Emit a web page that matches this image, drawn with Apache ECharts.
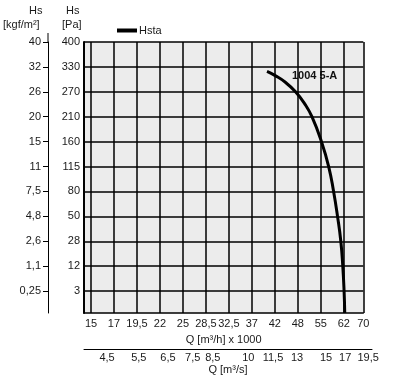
<!DOCTYPE html>
<html><head><meta charset="utf-8">
<script src="https://cdn.jsdelivr.net/npm/echarts@6/dist/echarts.min.js"></script>
<style>html,body{margin:0;padding:0;background:#fff}#c{width:398px;height:390px}</style>
</head><body><div id="c"></div>
<script>
// Tick values / labels
const qTickVals = [15,17,19.5,22,25,28.5,32.5,37,42,48,55,62,70];
const qLabels = ['15','17','19,5','22','25','28,5','32,5','37','42','48','55','62','70'];
const paTickVals = [3,12,28,50,80,115,160,210,270,330,400];
const paLabels = ['3','12','28','50','80','115','160','210','270','330','400'];
const kgfLabels = ['0,25','1,1','2,6','4,8','7,5','11','15','20','26','32','40'];
const qsLabels = ['4,5','5,5','6,5','7,5','8,5','10','11,5','13','15','17','19,5'];
// m3/s label positions expressed on the m3/h x1000 scale
const qsAtQ = [16.4,19.7,23.05,26.5,29.7,36.3,41.6,47.8,56.6,62.6,72.0];
// Curve Hsta: Q [m3/h x1000], Hs [Pa]
const hstaQ  = [40.3,42.1,44.75,47.4,50.1,52.3,55.2,57.4,58.9,60.1,61.1,61.7,62.13,62.4];
const hstaPa = [319, 309, 293,  270, 241, 210, 160, 115, 80,  50,  28,  12,  3,    0];

// layout constants (grid drawn in "tick index" units)
const X_MIN = -0.305, X_END = 11.85, Y_MIN = -0.88, Y_MAX = 10;
const G_LEFT = 84, G_RIGHT = 34.7, G2_RIGHT = 26, W = 398;
const X2_MAX = X_MIN + (X_END - X_MIN) * (W - G_LEFT - G2_RIGHT) / (W - G_LEFT - G_RIGHT);
const qTickIdx = qTickVals.map((_, i) => i === qTickVals.length - 1 ? X_END : i);
const paTickIdx = paTickVals.map((_, i) => i);

function piece(v, vals, idx){
  const n = vals.length;
  let i = 0;
  if (v <= vals[0]) i = 0;
  else if (v >= vals[n-1]) i = n-2;
  else { while (!(v >= vals[i] && v <= vals[i+1])) i++; }
  return idx[i] + (v - vals[i]) / (vals[i+1] - vals[i]) * (idx[i+1] - idx[i]);
}
function qPos(v){ return piece(v, qTickVals, qTickIdx); }
function paPos(v){ return v < paTickVals[0] ? Y_MIN * (paTickVals[0]-v)/paTickVals[0] : piece(v, paTickVals, paTickIdx); }
function nearest(arr, v){ let b = 0; arr.forEach((p, i) => { if (Math.abs(p - v) < Math.abs(arr[b] - v)) b = i; }); return b; }

const qsPos = qsAtQ.map(qPos);
const curve = hstaQ.map((q, i) => [qPos(q), paPos(hstaPa[i])]);

const F = 'Liberation Sans, Arial, sans-serif';
const TXT = {fontFamily: F, fontSize: 11, color: '#1a1a1a'};
const chart = echarts.init(document.getElementById('c'), null, {renderer: 'canvas'});
chart.setOption({
  animation: false,
  grid: [
    {left: G_LEFT, right: G_RIGHT, top: 42, bottom: 77, show: true, backgroundColor: '#ececec', borderWidth: 0},
    {left: G_LEFT, right: G2_RIGHT, top: 330, bottom: 41, show: false}
  ],
  legend: {left: 112, top: 20, icon: 'rect', itemWidth: 20, itemHeight: 4, itemGap: 2,
    textStyle: Object.assign({}, TXT, {padding: [0,0,0,-3]}), data: ['Hsta']},
  xAxis: [
    {type: 'value', gridIndex: 0, min: X_MIN, max: X_END, position: 'bottom',
      axisLine: {show: true, onZero: false, lineStyle: {color: '#000', width: 1.5}},
      axisTick: {show: false, customValues: qTickIdx},
      axisLabel: Object.assign({customValues: qTickIdx, margin: 5, formatter: v => qLabels[nearest(qTickIdx, v)]}, TXT),
      splitLine: {show: true, lineStyle: {color: '#000', width: 1.5}},
      name: 'Q [m³/h] x 1000', nameLocation: 'middle', nameGap: 21, nameTextStyle: TXT},
    {type: 'value', gridIndex: 1, min: X_MIN, max: X2_MAX, position: 'bottom',
      axisLine: {show: true, onZero: false, lineStyle: {color: '#000', width: 1}},
      axisTick: {show: false, customValues: qsPos},
      axisLabel: Object.assign({customValues: qsPos, margin: 3, formatter: v => qsLabels[nearest(qsPos, v)]}, TXT),
      splitLine: {show: false},
      name: 'Q [m³/s]', nameLocation: 'middle', nameGap: 15, nameTextStyle: TXT}
  ],
  yAxis: [
    {type: 'value', gridIndex: 0, min: Y_MIN, max: Y_MAX, position: 'left',
      axisLine: {show: true, onZero: false, lineStyle: {color: '#000', width: 2}},
      axisTick: {show: false, customValues: paTickIdx},
      axisLabel: Object.assign({customValues: paTickIdx, margin: 4, formatter: v => paLabels[nearest(paTickIdx, v)]}, TXT),
      splitLine: {show: true, lineStyle: {color: '#000', width: 1.5}}},
    {type: 'value', gridIndex: 0, min: Y_MIN, max: Y_MAX, position: 'left', offset: 36,
      axisLine: {show: true, onZero: false, lineStyle: {color: '#000', width: 1}},
      axisTick: {show: true, customValues: paTickIdx, length: 5, lineStyle: {color: '#000', width: 1}},
      axisLabel: Object.assign({customValues: paTickIdx, margin: 7, formatter: v => kgfLabels[nearest(paTickIdx, v)]}, TXT),
      splitLine: {show: false}},
    {type: 'value', gridIndex: 1, show: false, min: 0, max: 1}
  ],
  graphic: [
    {type: 'text', left: 29, top: 5, style: {text: 'Hs', font: '11px ' + F, fill: '#1a1a1a'}},
    {type: 'text', left: 3, top: 19, style: {text: '[kgf/m²]', font: '11px ' + F, fill: '#1a1a1a'}},
    {type: 'text', left: 66, top: 5, style: {text: 'Hs', font: '11px ' + F, fill: '#1a1a1a'}},
    {type: 'text', left: 62, top: 19, style: {text: '[Pa]', font: '11px ' + F, fill: '#1a1a1a'}},
    {type: 'text', left: 292, top: 70, style: {text: '1004 5-A', font: 'bold 11px ' + F, fill: '#111'}},
    {type: 'line', shape: {x1: 48, y1: 33, x2: 48, y2: 42}, style: {stroke: '#000', lineWidth: 1}}
  ],
  series: [{
    name: 'Hsta', type: 'line', xAxisIndex: 0, yAxisIndex: 0, data: curve,
    smooth: 0.5, showSymbol: false, symbol: 'none',
    lineStyle: {color: '#000', width: 3}, itemStyle: {color: '#000'}
  }]
});
</script></body></html>
